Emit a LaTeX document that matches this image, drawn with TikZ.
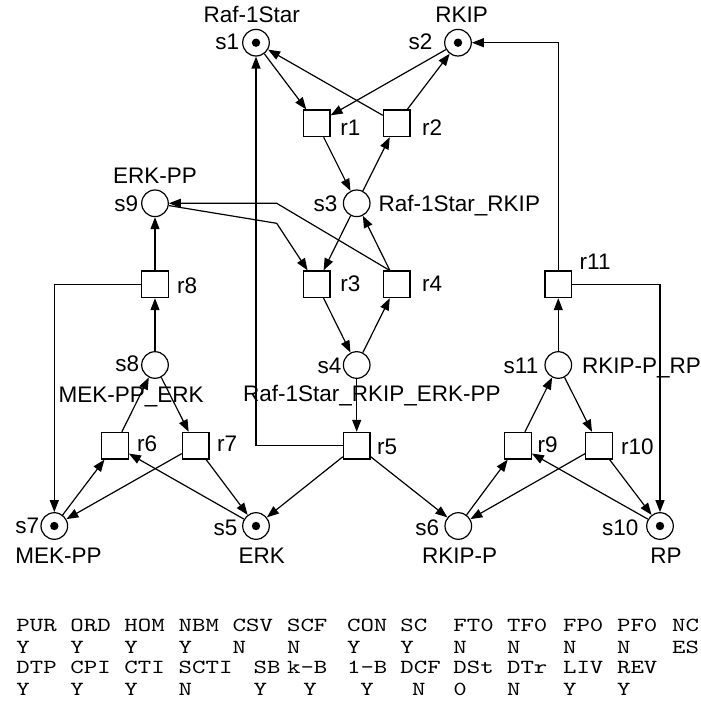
\documentclass[tikz,border=0pt]{standalone}
\usepackage{fontspec}
\setmainfont{Liberation Sans}
\newfontfamily\tblfont[FakeStretch=1.28]{Latin Modern Mono}
\usetikzlibrary{arrows.meta}
\tikzset{
  place/.style={circle,draw,line width=0.6pt,minimum size=13.3pt,inner sep=0pt},
  marked/.style={path picture={\fill (path picture bounding box.center) circle (2.1pt);}}, % token
  trans/.style={rectangle,draw,line width=0.6pt,minimum size=13.3pt,inner sep=0pt},
  flow/.style={-{Triangle[length=6pt,width=4.5pt]},line width=0.6pt},
  lbl/.style={anchor=base west,inner sep=0pt,font=\fontsize{11.25}{13.5}\selectfont},
  tbl/.style={anchor=base west,inner sep=0pt,font=\tblfont\fontsize{10}{12}\selectfont},
}

\begin{document}
\begin{tikzpicture}[x=0.5pt,y=-0.5pt]
  \useasboundingbox (0,0) rectangle (701,701);
  % places
  \node[place,marked] (s1) at (256,42.7) {};
  \node[place,marked] (s2) at (458,42.7) {};
  \node[place] (s3) at (356.7,203.3) {};
  \node[place] (s9) at (155,203.3) {};
  \node[place] (s4) at (356.7,365) {};
  \node[place] (s8) at (155,365) {};
  \node[place] (s11) at (558.3,365) {};
  \node[place,marked] (s7) at (54.3,526) {};
  \node[place,marked] (s5) at (256,526) {};
  \node[place] (s6) at (458.3,526) {};
  \node[place,marked] (s10) at (660,526) {};
  % transitions
  \node[trans] (r1) at (316.7,123.3) {};
  \node[trans] (r2) at (396.7,123.3) {};
  \node[trans] (r3) at (316.7,284.3) {};
  \node[trans] (r4) at (396.7,284.3) {};
  \node[trans] (r8) at (155,284.3) {};
  \node[trans] (r11) at (558.3,284.3) {};
  \node[trans] (r5) at (356.7,445.7) {};
  \node[trans] (r6) at (115,445.7) {};
  \node[trans] (r7) at (195.7,445.7) {};
  \node[trans] (r9) at (518,445.7) {};
  \node[trans] (r10) at (599,445.7) {};
  \coordinate (b1) at (276.7,223.3);
  \coordinate (b2) at (276.7,203.3);

  % arcs
  \draw[flow] (s1) -- (r1);
  \draw[flow] (s2) -- (r1);
  \draw[flow] (r1) -- (s3);
  \draw[flow] (s3) -- (r2);
  \draw[flow] (r2) -- (s1);
  \draw[flow] (r2) -- (s2);
  \draw[flow] (s3) -- (r3);
  \draw[flow] (r4) -- (s3);
  \draw[flow] (r3) -- (s4);
  \draw[flow] (s4) -- (r4);
  \draw[flow] (s9) -- (b1) -- (r3);
  \draw[flow] (r4.117) -- (b2) -- (s9);
  \draw[flow] (s4) -- (r5);
  \draw[flow] (r5) -| (s1);
  \draw[flow] (r5) -- (s5);
  \draw[flow] (r5) -- (s6);
  \draw[flow] (s8) -- (r8);
  \draw[flow] (r8) -- (s9);
  \draw[flow] (r8) -| (s7);
  \draw[flow] (r6) -- (s8);
  \draw[flow] (s8) -- (r7);
  \draw[flow] (s7) -- (r6);
  \draw[flow] (s5) -- (r6);
  \draw[flow] (r7) -- (s7);
  \draw[flow] (r7) -- (s5);
  \draw[flow] (s6) -- (r9);
  \draw[flow] (s10) -- (r9);
  \draw[flow] (r9) -- (s11);
  \draw[flow] (s11) -- (r10);
  \draw[flow] (r10) -- (s6);
  \draw[flow] (r10) -- (s10);
  \draw[flow] (s11) -- (r11);
  \draw[flow] (r11) |- (s2);
  \draw[flow] (r11) -| (s10);

  % labels
  \foreach \x/\y/\t [count=\i] in {
      203.3/22.7/Raf-1Star, 435/22.7/RKIP, 215/50/s1, 408.3/50/s2,
      340/135/r1, 421.7/135/r2, 313.3/211.7/s3, 378.3/211.7/Raf-1Star\_RKIP,
      112.7/184/ERK-PP, 114/211.7/s9, 176.7/293.3/r8, 340/291.7/r3,
      421.7/291.7/r4, 579.3/269.3/r11, 115/371.7/s8, 58.3/402.7/MEK-PP\_ERK,
      317.3/373.3/s4, 242.7/401/Raf-1Star\_RKIP\_ERK-PP, 503.3/373.3/s11,
      581.7/373.3/RKIP-P\_RP, 136.7/451.7/r6, 216.7/451.7/r7, 376.7/454/r5,
      537.3/452.7/r9, 620.7/454/r10, 15/533.3/s7, 213.3/535/s5, 415/535/s6,
      601.7/535/s10, 15/563/MEK-PP, 238.3/563/ERK, 421.7/563/RKIP-P, 650/563/RP}
    \node[lbl] (lab\i) at (\x,\y) {\t};

  % property table
  \foreach \x/\t [count=\i] in {16/PUR, 70/ORD, 124/HOM, 178.3/NBM, 232.3/CSV,
      286.7/SCF, 346.7/CON, 400/SC, 453/FT0, 506.7/TF0, 562.7/FP0, 616.7/PF0, 671.7/NC}
    \node[tbl] (ha\i) at (\x,631.7) {\t};
  \foreach \x/\t [count=\i] in {16/Y, 70/Y, 124/Y, 178.3/Y, 232.3/N, 286.7/N,
      346.7/Y, 400/Y, 453/N, 506.7/N, 562.7/N, 616.7/N, 671.7/ES}
    \node[tbl] (va\i) at (\x,653.3) {\t};
  \foreach \x/\t [count=\i] in {16/DTP, 70/CPI, 124/CTI, 178.3/SCTI, 253.3/SB,
      286.7/k-B, 346.7/1-B, 400/DCF, 453/DSt, 506.7/DTr, 562.7/LIV, 616.7/REV}
    \node[tbl] (hb\i) at (\x,673.3) {\t};
  \foreach \x/\t [count=\i] in {16/Y, 70/Y, 124/Y, 178.3/N, 253.3/Y, 303/Y,
      360/Y, 411.7/N, 453/0, 506.7/N, 562.7/Y, 616.7/Y}
    \node[tbl] (vb\i) at (\x,695) {\t};
\end{tikzpicture}
\end{document}
